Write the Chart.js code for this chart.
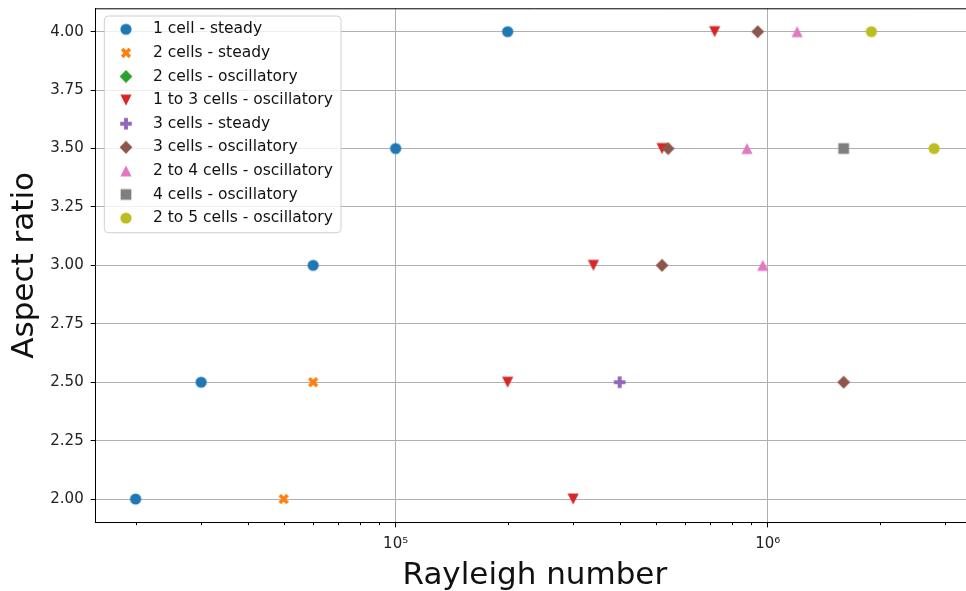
<!DOCTYPE html>
<html lang="en">
<head>
    <meta charset="UTF-8">
    <title>Aspect ratio vs Rayleigh number</title>
    <script src="https://cdn.jsdelivr.net/npm/chart.js@4/dist/chart.umd.min.js"></script>
    <style>
        html, body { margin: 0; padding: 0; background: #fff; overflow: hidden; }
        #wrap { width: 980px; height: 591px; }
    </style>
</head>
<body>
    <div id="wrap"><canvas id="chartRa" width="980" height="591"></canvas></div>

<script>
// Data: Rayleigh number (x) and aspect ratio (y) per regime
const seriesNames = [
    '1 cell - steady',
    '2 cells - steady',
    '2 cells - oscillatory',
    '1 to 3 cells - oscillatory',
    '3 cells - steady',
    '3 cells - oscillatory',
    '2 to 4 cells - oscillatory',
    '4 cells - oscillatory',
    '2 to 5 cells - oscillatory'
];

const oneCellSteadyRa = [2e4, 3e4, 6e4, 1e5, 2e5];
const oneCellSteadyAr = [2.0, 2.5, 3.0, 3.5, 4.0];

const twoCellsSteadyRa = [5e4, 6e4];
const twoCellsSteadyAr = [2.0, 2.5];

const twoCellsOscRa = [];
const twoCellsOscAr = [];

const oneToThreeOscRa = [3e5, 2e5, 3.4e5, 5.2e5, 7.2e5];
const oneToThreeOscAr = [2.0, 2.5, 3.0, 3.5, 4.0];

const threeCellsSteadyRa = [4e5];
const threeCellsSteadyAr = [2.5];

const threeCellsOscRa = [1.6e6, 5.2e5, 5.4e5, 9.4e5];
const threeCellsOscAr = [2.5, 3.0, 3.5, 4.0];

const twoToFourOscRa = [9.7e5, 8.8e5, 1.2e6];
const twoToFourOscAr = [3.0, 3.5, 4.0];

const fourCellsOscRa = [1.6e6];
const fourCellsOscAr = [3.5];

const twoToFiveOscRa = [2.8e6, 1.9e6];
const twoToFiveOscAr = [3.5, 4.0];

const seriesRa = [oneCellSteadyRa, twoCellsSteadyRa, twoCellsOscRa, oneToThreeOscRa, threeCellsSteadyRa,
                  threeCellsOscRa, twoToFourOscRa, fourCellsOscRa, twoToFiveOscRa];
const seriesAr = [oneCellSteadyAr, twoCellsSteadyAr, twoCellsOscAr, oneToThreeOscAr, threeCellsSteadyAr,
                  threeCellsOscAr, twoToFourOscAr, fourCellsOscAr, twoToFiveOscAr];

// Tick values and labels
const yTicks = [2.0, 2.25, 2.5, 2.75, 3.0, 3.25, 3.5, 3.75, 4.0];
const xMajorTicks = [1e5, 1e6];
const xMajorLabels = ['10\u2075', '10\u2076'];
const xMinorTicks = [2e4, 3e4, 4e4, 5e4, 6e4, 7e4, 8e4, 9e4,
                     2e5, 3e5, 4e5, 5e5, 6e5, 7e5, 8e5, 9e5,
                     2e6, 3e6];

// Styling
const colors = ['#1f77b4', '#ff7f0e', '#2ca02c', '#d62728', '#9467bd', '#8c564b', '#e377c2', '#7f7f7f', '#bcbd22'];
const shapes = ['circle', 'x', 'diamond', 'tridown', 'plus', 'diamond', 'triup', 'square', 'circle'];
const FONT = "'DejaVu Sans', sans-serif";

// 1. Marker images (matplotlib-like filled markers)
function makeMarker(shape, color) {
    const c = document.createElement('canvas');
    c.width = 14; c.height = 14;
    const g = c.getContext('2d');
    g.fillStyle = color;
    g.strokeStyle = color;
    g.beginPath();
    if (shape === 'circle') {
        g.arc(7, 7, 5.6, 0, Math.PI * 2);
        g.fill();
    } else if (shape === 'x') {
        g.lineWidth = 3.6;
        g.moveTo(3.1, 3.1); g.lineTo(10.9, 10.9);
        g.moveTo(3.1, 10.9); g.lineTo(10.9, 3.1);
        g.stroke();
    } else if (shape === 'plus') {
        g.fillRect(1.2, 5.05, 11.6, 3.9);
        g.fillRect(5.05, 1.2, 3.9, 11.6);
    } else if (shape === 'diamond') {
        g.moveTo(7, 0.6); g.lineTo(13.4, 7); g.lineTo(7, 13.4); g.lineTo(0.6, 7);
        g.closePath(); g.fill();
    } else if (shape === 'triup') {
        g.moveTo(7, 1.4); g.lineTo(12.6, 12.6); g.lineTo(1.4, 12.6);
        g.closePath(); g.fill();
    } else if (shape === 'tridown') {
        g.moveTo(1.4, 1.4); g.lineTo(12.6, 1.4); g.lineTo(7, 12.6);
        g.closePath(); g.fill();
    } else if (shape === 'square') {
        g.fillRect(1.65, 1.65, 10.7, 10.7);
    }
    return c;
}

const markers = seriesNames.map((n, i) => makeMarker(shapes[i], colors[i]));

function isMajor(v) {
    const l = Math.log10(v);
    return Math.abs(l - Math.round(l)) < 1e-9;
}

// 2. Plugin: frame (top/right spines), minor ticks and the legend inside the plot
const framePlugin = {
    id: 'frame',
    afterDraw(chart) {
        const ctx = chart.ctx;
        const a = chart.chartArea;
        const xs = chart.scales.x;
        ctx.save();
        ctx.strokeStyle = '#000';
        ctx.lineWidth = 1;
        ctx.beginPath();
        ctx.moveTo(a.left, a.top + 0.5); ctx.lineTo(a.right, a.top + 0.5);
        ctx.moveTo(a.right - 0.5, a.top); ctx.lineTo(a.right - 0.5, a.bottom);
        ctx.stroke();

        // minor ticks on the log axis
        ctx.beginPath();
        xMinorTicks.forEach(v => {
            const px = Math.round(xs.getPixelForValue(v)) + 0.5;
            ctx.moveTo(px, a.bottom); ctx.lineTo(px, a.bottom + 2.8);
        });
        ctx.stroke();

        // legend box
        const bx = a.left + 8.6, by = a.top + 7.7, bw = 236.7, bh = 216.7;
        ctx.beginPath();
        ctx.roundRect(bx, by, bw, bh, 4);
        ctx.fillStyle = 'rgba(255,255,255,0.8)';
        ctx.fill();
        ctx.strokeStyle = '#d0d0d0';
        ctx.stroke();

        ctx.font = '15.5px ' + FONT;
        ctx.textBaseline = 'middle';
        ctx.textAlign = 'left';
        ctx.fillStyle = '#111';
        chart.data.datasets.forEach((ds, i) => {
            const cy = by + 13.3 + i * 23.6;
            const m = ds.pointStyle;
            ctx.drawImage(m, bx + 21.7 - m.width / 2, cy - m.height / 2);
            ctx.fillText(ds.label, bx + 48.7, cy);
        });
        ctx.restore();
    }
};

// 3. Build chart
const datasets = seriesNames.map((name, i) => ({
    label: name,
    data: seriesRa[i].map((ra, k) => ({ x: ra, y: seriesAr[i][k] })),
    pointStyle: markers[i],
    pointRadius: 5,
    showLine: false,
    order: seriesNames.length - i
}));

new Chart(document.getElementById('chartRa'), {
    type: 'scatter',
    data: { datasets: datasets },
    options: {
        responsive: false,
        animation: false,
        devicePixelRatio: 1,
        layout: { padding: { top: 8.3, right: 5.5, bottom: -4, left: 0 } },
        plugins: {
            legend: { display: false },
            tooltip: { enabled: false }
        },
        scales: {
            x: {
                type: 'logarithmic',
                min: 15622,
                max: 3.585e6,
                afterBuildTicks: (scale) => {
                    scale.ticks = xMinorTicks.concat(xMajorTicks)
                        .sort((a, b) => a - b)
                        .map(v => ({ value: v, major: isMajor(v) }));
                },
                afterFit: (scale) => {
                    scale.height = 72.6;
                    scale.paddingLeft = 0;
                    scale.paddingRight = 0;
                },
                ticks: {
                    autoSkip: false,
                    maxRotation: 0,
                    padding: 8,
                    color: '#222',
                    font: { family: FONT, size: 15 },
                    callback: (v) => {
                        const k = xMajorTicks.indexOf(v);
                        return k >= 0 ? xMajorLabels[k] : '';
                    }
                },
                grid: {
                    color: (c) => (c.tick && isMajor(c.tick.value)) ? '#b0b0b0' : 'rgba(0,0,0,0)',
                    tickColor: (c) => (c.tick && isMajor(c.tick.value)) ? '#000' : 'rgba(0,0,0,0)',
                    tickLength: 5,
                    lineWidth: 1
                },
                border: { display: true, color: '#000', width: 1 },
                title: {
                    display: true,
                    text: 'Rayleigh number',
                    color: '#111',
                    font: { family: FONT, size: 31 },
                    padding: { top: 0, bottom: 0 }
                }
            },
            y: {
                type: 'linear',
                min: 1.9,
                max: 4.1,
                afterBuildTicks: (scale) => {
                    scale.ticks = yTicks.map(v => ({ value: v }));
                },
                afterFit: (scale) => {
                    scale.width = 95.7;
                    scale.paddingTop = 0;
                    scale.paddingBottom = 0;
                },
                ticks: {
                    padding: 7,
                    color: '#222',
                    font: { family: FONT, size: 15 },
                    callback: (v) => Number(v).toFixed(2)
                },
                grid: {
                    color: '#b0b0b0',
                    tickColor: '#000',
                    tickLength: 5,
                    lineWidth: 1
                },
                border: { display: true, color: '#000', width: 1 },
                title: {
                    display: true,
                    text: 'Aspect ratio',
                    color: '#111',
                    font: { family: FONT, size: 31 },
                    padding: { top: 6, bottom: 0 }
                }
            }
        }
    },
    plugins: [framePlugin]
});
</script>
</body>
</html>
